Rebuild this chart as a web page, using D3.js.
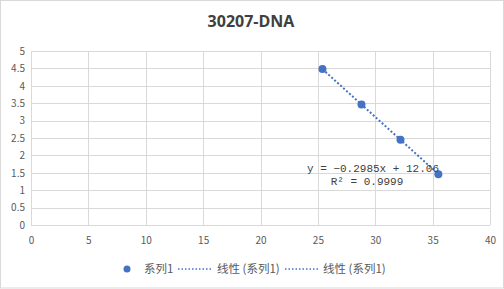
<!DOCTYPE html>
<html>
<head>
<meta charset="utf-8">
<script src="https://cdn.jsdelivr.net/npm/d3@7"></script>
<style>
  body { margin: 0; background: #fff; }
  text { font-family: "Noto Sans CJK SC", "Open Sans", sans-serif; }
</style>
</head>
<body>
<div id="chart"></div>
<script>
// data
var xValues = [25.4, 28.8, 32.2, 35.5];
var yValues = [4.48, 3.46, 2.45, 1.46];
var xTicks = [0, 5, 10, 15, 20, 25, 30, 35, 40];
var yTicks = [0, 0.5, 1, 1.5, 2, 2.5, 3, 3.5, 4, 4.5, 5];
var slope = -0.2985, intercept = 12.06;
var equationText = "y = −0.2985x + 12.06";
var r2Text = "R² = 0.9999";
var legendLabels = ["系列1", "线性 (系列1)", "线性 (系列1)"];

var width = 504, height = 289;
var margin = { top: 51, right: 14, bottom: 64, left: 31 };
var blue = "#4472C4";

var svg = d3.select("#chart").append("svg")
    .attr("width", width)
    .attr("height", height);

// outer frame lines
svg.append("rect")
    .attr("x", 0.5).attr("y", 0.5)
    .attr("width", width - 1).attr("height", height - 1.5)
    .attr("fill", "none").attr("stroke", "#d9d9d9");

svg.append("text")
    .attr("x", width / 2 - 1).attr("y", 27)
    .attr("text-anchor", "middle")
    .attr("font-size", 16).attr("font-weight", "bold")
    .attr("fill", "#404040")
    .style("font-family", "'Open Sans', sans-serif")
    .text("30207-DNA");

var x = d3.scaleLinear().domain([0, 40]).range([margin.left, width - margin.right]);
var y = d3.scaleLinear().domain([0, 5]).range([height - margin.bottom, margin.top]);

// gridlines
svg.append("g").selectAll("line").data(yTicks).enter().append("line")
    .attr("x1", x(0)).attr("x2", x(40))
    .attr("y1", function (d) { return Math.round(y(d)) + 0.5; })
    .attr("y2", function (d) { return Math.round(y(d)) + 0.5; })
    .attr("stroke", "#d9d9d9");
svg.append("g").selectAll("line").data(xTicks).enter().append("line")
    .attr("y1", y(0)).attr("y2", y(5))
    .attr("x1", function (d) { return Math.round(x(d)) + 0.5; })
    .attr("x2", function (d) { return Math.round(x(d)) + 0.5; })
    .attr("stroke", "#d9d9d9");

// axis labels
var xAxis = svg.append("g")
    .attr("transform", "translate(0," + (y(0) + 15) + ")")
    .call(d3.axisBottom(x).tickValues(xTicks).tickSize(0).tickFormat(d3.format("d")));
xAxis.select(".domain").remove();
xAxis.selectAll("text").attr("fill", "#595959").attr("font-size", 10).attr("dy", "0.35em").attr("y", 0);

var yAxis = svg.append("g")
    .attr("transform", "translate(" + (x(0) - 6) + ",0)")
    .call(d3.axisLeft(y).tickValues(yTicks).tickSize(0).tickFormat(function (d) { return String(d); }));
yAxis.select(".domain").remove();
yAxis.selectAll("text").attr("fill", "#595959").attr("font-size", 10).attr("x", 0);

// trendline
var xMin = d3.min(xValues), xMax = d3.max(xValues);
svg.append("line")
    .attr("x1", x(xMin)).attr("y1", y(slope * xMin + intercept))
    .attr("x2", x(xMax)).attr("y2", y(slope * xMax + intercept))
    .attr("stroke", blue).attr("stroke-width", 2)
    .attr("stroke-dasharray", "2,2");

// points
svg.selectAll(".pt").data(xValues).enter().append("circle")
    .attr("class", "pt")
    .attr("cx", function (d) { return x(d); })
    .attr("cy", function (d, i) { return y(yValues[i]); })
    .attr("r", 4)
    .attr("fill", blue);

// equation label
var eq = svg.append("g").attr("fill", "#404040").attr("font-size", 11);
eq.append("text").attr("x", 373).attr("y", 172).attr("text-anchor", "middle")
    .style("font-family", "'Liberation Mono', monospace").text(equationText);
eq.append("text").attr("x", 367).attr("y", 185).attr("text-anchor", "middle")
    .style("font-family", "'Liberation Mono', monospace").text(r2Text);

// legend
var lg = svg.append("g").attr("transform", "translate(0,269)");
lg.append("circle").attr("cx", 127).attr("cy", 0).attr("r", 3.5).attr("fill", blue);
lg.append("text").attr("x", 144).attr("y", 4).attr("font-size", 11.5).attr("fill", "#595959").text(legendLabels[0]);
lg.append("line").attr("x1", 178).attr("x2", 212).attr("y1", 0).attr("y2", 0)
    .attr("stroke", blue).attr("stroke-width", 1.5).attr("stroke-dasharray", "1.5,2");
lg.append("text").attr("x", 217).attr("y", 4).attr("font-size", 11.5).attr("fill", "#595959").text(legendLabels[1]);
lg.append("line").attr("x1", 285).attr("x2", 319).attr("y1", 0).attr("y2", 0)
    .attr("stroke", blue).attr("stroke-width", 1.5).attr("stroke-dasharray", "1.5,2");
lg.append("text").attr("x", 323).attr("y", 4).attr("font-size", 11.5).attr("fill", "#595959").text(legendLabels[2]);
</script>
</body>
</html>
